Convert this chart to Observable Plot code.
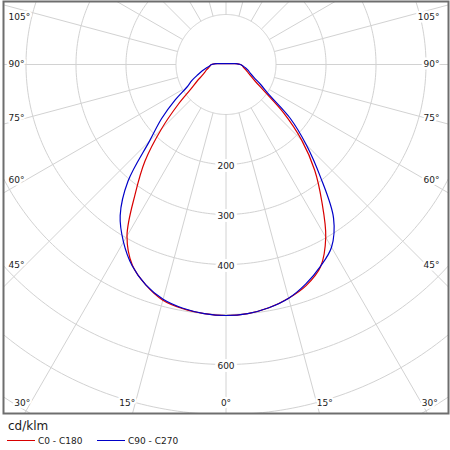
<!DOCTYPE html>
<html>
<head>
<meta charset="utf-8">
<script src="https://cdn.jsdelivr.net/npm/d3@7"></script>
<script src="https://cdn.jsdelivr.net/npm/@observablehq/plot@0.6"></script>
<style>
  html, body { margin: 0; padding: 0; background: #fff; }
  body { font-family: "DejaVu Sans", sans-serif; color: #1a1a1a; }
  #legend { position: relative; width: 450px; height: 34px; }
  #legend .unit { position: absolute; left: 8px; top: 3px; font-size: 12px; line-height: 14px; }
  #legend .item { position: absolute; top: 18px; height: 14px; font-size: 9px; line-height: 14px; white-space: nowrap; }
  #legend .sw { display: inline-block; width: 28px; height: 0; border-top: 1.3px solid; vertical-align: middle; margin-right: 3px; position: relative; top: -1px; }
</style>
</head>
<body>
<div id="chart"></div>
<div id="legend"></div>
<script>
// Gamma angles (degrees from nadir) and luminous intensity in cd/klm
const gammaAngles = [0, 5, 10, 15, 20, 25, 30, 35, 40, 45, 50, 55, 60, 65, 70, 75, 80, 85, 90, 95];
const c0   = [502, 500, 494, 484, 470, 447, 399, 334, 276, 214, 150, 94, 68, 55, 47, 41, 36, 33, 29, 20];
const c180 = [502, 500, 496, 488, 469, 443, 396, 317, 252, 183, 126, 86, 67, 53, 45, 40, 35, 32, 29, 20];
const c90  = [502, 500, 494, 484, 467, 446, 422, 375, 294, 227, 168, 105, 80, 62, 52, 46, 40, 34, 29, 20];
const c270 = [502, 500, 495, 486, 469, 444, 410, 369, 305, 216, 168, 125, 90, 75, 60, 49, 40, 33, 29, 20];

const seriesNames  = ["C0 - C180", "C90 - C270"];
const seriesColors = ["#d80000", "#0000c8"];
const seriesRight  = [c0, c90];
const seriesLeft   = [c180, c270];

const ringValues   = [100, 200, 300, 400, 500, 600, 700, 800, 900];
const ringLabels   = [200, 300, 400, 600];
const spokeAngles  = [0, 15, 30, 45, 60, 75, 90, 105, 120, 135, 150, 165, 180];
const angleLabels  = [0, 15, 30, 45, 60, 75, 90, 105];

// Layout
const W = 450, H = 416;
const cx = 225.5, cy = 64, k = 0.5; // centre in px, px per cd/klm
const rad = d => d * Math.PI / 180;

// Curve points: left half from 95° down to 0°, right half from 0° up to 95°
const curves = seriesNames.map((name, i) => {
  const pts = [];
  for (let j = gammaAngles.length - 1; j >= 0; j--) {
    const t = rad(gammaAngles[j]), v = seriesLeft[i][j];
    pts.push({x: -v * Math.sin(t), y: v * Math.cos(t)});
  }
  for (let j = 1; j < gammaAngles.length; j++) {
    const t = rad(gammaAngles[j]), v = seriesRight[i][j];
    pts.push({x: v * Math.sin(t), y: v * Math.cos(t)});
  }
  return {name, color: seriesColors[i], pts, top: {x1: pts[0].x, y1: pts[0].y, x2: pts[pts.length - 1].x, y2: pts[pts.length - 1].y}};
});

// Grid rings
const ringPts = [];
for (const r of ringValues) {
  for (let a = 0; a <= 360; a += 1) ringPts.push({r, x: r * Math.sin(rad(a)), y: r * Math.cos(rad(a))});
}
// Spokes (both sides)
const spokes = [];
for (const a of spokeAngles) {
  for (const s of (a === 0 || a === 180) ? [1] : [-1, 1]) {
    const t = rad(a);
    spokes.push({x1: s * 100 * Math.sin(t), y1: 100 * Math.cos(t), x2: s * 1200 * Math.sin(t), y2: 1200 * Math.cos(t)});
  }
}
// Angle labels: placed beside the spoke, near the plot edge
const sideEdge = (cx - 24.5) / k;   // spoke crossing used for side labels
const bottomY = (403 - cy) / k;     // bottom label line
const minY = (17 - cy) / k;
const leftTextX = (8 - cx) / k;
const rightTextX = (439 - cx) / k;
const angleLabelData = [];
for (const a of angleLabels) {
  for (const s of a === 0 ? [1] : [-1, 1]) {
    const t = rad(a);
    const sn = Math.sin(t), cs = Math.cos(t);
    const xb = cs > 0 ? bottomY * sn / cs : Infinity;
    if (xb < 400) {
      angleLabelData.push({x: s * xb, y: bottomY, anchor: a === 0 ? "middle" : (s < 0 ? "end" : "start"), text: a + "°"});
    } else {
      const y = Math.max(minY, sideEdge * cs / sn);
      angleLabelData.push({x: s < 0 ? leftTextX : rightTextX, y, anchor: s < 0 ? "start" : "end", text: a + "°"});
    }
  }
}

const font = "DejaVu Sans, sans-serif";
const plot = Plot.plot({
  width: W,
  height: H,
  marginLeft: 3, marginRight: 2, marginTop: 1, marginBottom: 3,
  style: {background: "#fff", fontFamily: font},
  x: {domain: [-cx / k, (W - cx) / k], range: [0, W], axis: null},
  y: {domain: [-cy / k, (H - cy) / k], range: [0, H], axis: null},
  marks: [
    Plot.line(ringPts, {x: "x", y: "y", z: "r", stroke: "#d2d2d2", strokeWidth: 1, clip: true}),
    Plot.link(spokes, {x1: "x1", y1: "y1", x2: "x2", y2: "y2", stroke: "#d2d2d2", strokeWidth: 1, clip: true}),
    Plot.text(ringLabels, {x: 0, y: d => d, dy: 1.5, text: d => String(d), fontSize: 9, fill: "#1a1a1a", stroke: "#fff", strokeWidth: 6, paintOrder: "stroke", fontFamily: font}),
    ...["start", "middle", "end"].map(anc => Plot.text(angleLabelData.filter(d => d.anchor === anc), {
      x: "x", y: "y", text: "text", textAnchor: anc, fontSize: 9, fill: "#1a1a1a",
      stroke: "#fff", strokeWidth: 5, paintOrder: "stroke", fontFamily: font
    })),
    ...curves.map(c => Plot.line(c.pts, {x: "x", y: "y", stroke: c.color, strokeWidth: 1.2, curve: "catmull-rom", clip: true})),
    ...curves.map(c => Plot.link([c.top], {x1: "x1", y1: "y1", x2: "x2", y2: "y2", stroke: c.color, strokeWidth: 1.2})),
    Plot.frame({stroke: "#6e6e6e", strokeWidth: 2})
  ]
});
document.getElementById("chart").appendChild(plot);

// Legend
const legend = document.getElementById("legend");
const unit = document.createElement("div");
unit.className = "unit";
unit.textContent = "cd/klm";
legend.appendChild(unit);
const itemLeft = [7, 97];
seriesNames.forEach((name, i) => {
  const it = document.createElement("div");
  it.className = "item";
  it.style.left = itemLeft[i] + "px";
  const sw = document.createElement("span");
  sw.className = "sw";
  sw.style.borderTopColor = seriesColors[i];
  it.appendChild(sw);
  it.appendChild(document.createTextNode(name));
  legend.appendChild(it);
});
</script>
</body>
</html>
